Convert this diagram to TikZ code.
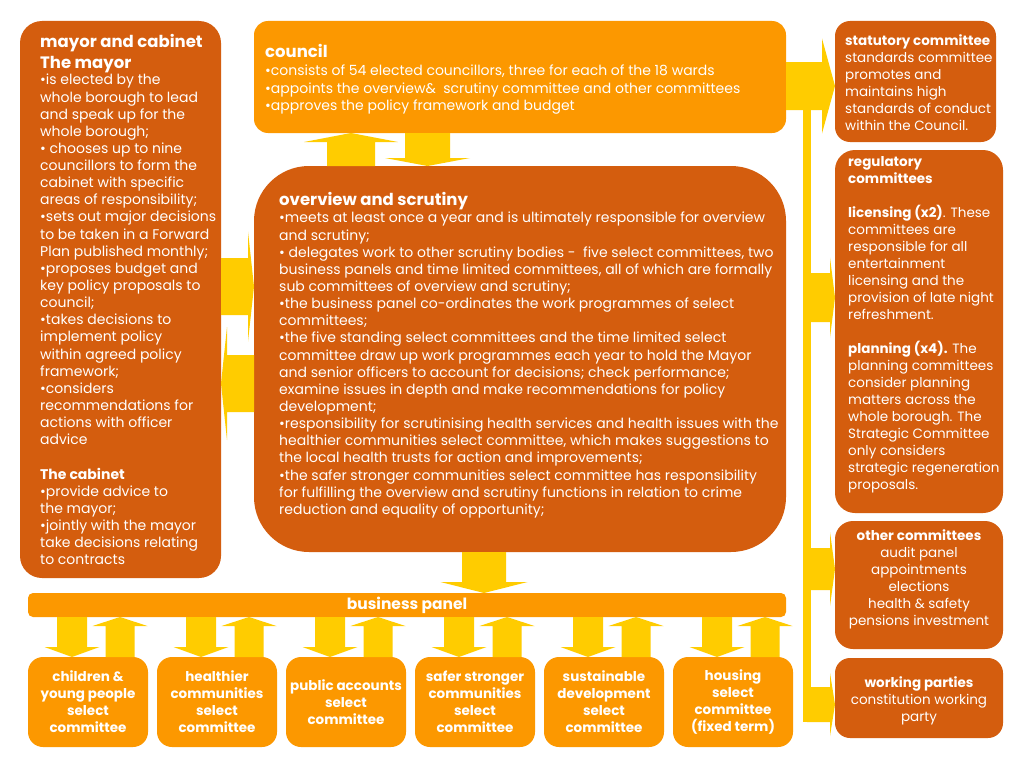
\documentclass[tikz,border=0pt]{standalone}
\usepackage{fontspec}
\setmainfont{Poppins}
\usetikzlibrary{calc}
\definecolor{dk}{RGB}{212,93,14}
\definecolor{org}{RGB}{252,152,0}
\definecolor{yel}{RGB}{255,204,0}
\tikzset{
  box/.style={rectangle, anchor=north west, inner sep=0pt, outer sep=0pt, rounded corners=#1},
  txt/.style={anchor=north west, inner sep=0pt, align=left, text=white, font=\fontsize{14}{17.14}\selectfont},
  ttl/.style={anchor=north west, inner sep=0pt, align=left, text=white, font=\fontsize{16.5}{21}\selectfont\bfseries},
  rtxt/.style={inner sep=0pt, text=white, font=\fontsize{13.5}{17}\selectfont},
  ctxt/.style={inner sep=0pt, align=center, text=white, font=\fontsize{13.5}{17}\selectfont\bfseries},
  blk/.style={fill=yel, draw=none},
}
\newcommand\blkup[5]{\path[blk] let \p1=(#1), \p2=(#2) in (\x1-#3,\y1) -- (\x1-#3,\y2-#5) -- (\x1-#4,\y2-#5) -- (\x1,\y2) -- (\x1+#4,\y2-#5) -- (\x1+#3,\y2-#5) -- (\x1+#3,\y1) -- cycle;}
\newcommand\blkdown[5]{\path[blk] let \p1=(#1), \p2=(#2) in (\x1-#3,\y1) -- (\x1-#3,\y2+#5) -- (\x1-#4,\y2+#5) -- (\x1,\y2) -- (\x1+#4,\y2+#5) -- (\x1+#3,\y2+#5) -- (\x1+#3,\y1) -- cycle;}
\newcommand\blkright[5]{\path[blk] let \p1=(#1), \p2=(#2) in (\x1,\y1-#3) -- (\x2-#5,\y1-#3) -- (\x2-#5,\y1-#4) -- (\x2,\y1) -- (\x2-#5,\y1+#4) -- (\x2-#5,\y1+#3) -- (\x1,\y1+#3) -- cycle;}
\newcommand\blkleft[5]{\path[blk] let \p1=(#1), \p2=(#2) in (\x1,\y1-#3) -- (\x2+#5,\y1-#3) -- (\x2+#5,\y1-#4) -- (\x2,\y1) -- (\x2+#5,\y1+#4) -- (\x2+#5,\y1+#3) -- (\x1,\y1+#3) -- cycle;}
\begin{document}
\begin{tikzpicture}[x=1pt,y=-1pt]
\useasboundingbox[fill=white] (0,0) rectangle (1024,768);
% boxes
\node[box=22pt, fill=dk, minimum width=201pt, minimum height=557pt] (my) at (20,21) {};
\node[box=14pt, fill=org, minimum width=532pt, minimum height=112pt] (co) at (254,21) {};
\node[box=55pt, fill=dk, minimum width=532pt, minimum height=386pt] (ov) at (254,166) {};
\node[box=15pt, fill=dk, minimum width=161pt, minimum height=121pt] (st) at (835,21) {};
\node[box=20pt, fill=dk, minimum width=168pt, minimum height=363pt] (reg) at (835,150) {};
\node[box=18pt, fill=dk, minimum width=168pt, minimum height=128pt] (oth) at (835,521) {};
\node[box=15pt, fill=dk, minimum width=168pt, minimum height=80pt] (wp) at (835,658) {};
\node[box=5pt, fill=org, minimum width=758pt, minimum height=24pt] (bp) at (28,593) {};
\foreach \i/\L in {1/28,2/157,3/286,4/415,5/544,6/673}{
  \node[box=15pt, fill=org, minimum width=120pt, minimum height=90pt] (c\i) at (\L,657) {};
}
% arrows council <-> overview
\coordinate (u1) at (351,0);
\coordinate (d1) at (427.5,0);
\blkup{u1 |- ov.north}{u1 |- co.south}{24pt}{47pt}{9pt}
\blkdown{d1 |- co.south}{d1 |- ov.north}{22.5pt}{42.5pt}{8pt}
% arrows mayor <-> overview
\coordinate (r1) at (0,286.5);
\coordinate (l1) at (0,383.5);
\blkright{my.east |- r1}{ov.west |- r1}{28.5pt}{55pt}{6pt}
\blkleft{ov.west |- l1}{my.east |- l1}{28.5pt}{56.5pt}{6pt}
% council -> statutory and side bar
\coordinate (r2) at (0,86);
\blkright{co.east |- r2}{st.west |- r2}{24pt}{47.5pt}{13pt}
\coordinate (bartop) at (807,110);
\coordinate (barbot) at (807,722);
\draw[yel, line width=8pt] (bartop) -- (barbot);
\coordinate (r3) at (0,297.5);
\coordinate (r4) at (0,569);
\coordinate (r5) at (0,704.5);
\blkright{bartop |- r3}{reg.west |- r3}{24.5pt}{40pt}{5pt}
\blkright{bartop |- r4}{oth.west |- r4}{21pt}{37pt}{5pt}
\blkright{bartop |- r5}{wp.west |- r5}{17.5pt}{31.5pt}{5pt}
% overview -> business panel
\coordinate (d2) at (484,0);
\blkdown{d2 |- ov.south}{d2 |- bp.north}{22pt}{43.5pt}{11pt}
% business panel <-> committees
\foreach \i/\L in {1/28,2/157,3/286,4/415,5/544,6/673}{
  \coordinate (dd\i) at (\L+44,0);
  \coordinate (uu\i) at (\L+92,0);
  \blkdown{dd\i |- bp.south}{dd\i |- c\i.north}{15pt}{27.5pt}{10pt}
  \blkup{uu\i |- c\i.north}{uu\i |- bp.south}{14.5pt}{27.5pt}{9pt}
}
% texts
\node[ttl] (myt) at (40,34.5) {mayor and cabinet\\The mayor};
\node[txt] (myb) at (40,74) {•is elected by the\\whole borough to lead\\and speak up for the\\whole borough;\\• chooses up to nine\\councillors to form the\\cabinet with specific\\areas of responsibility;\\•sets out major decisions\\to be taken in a Forward\\Plan published monthly;\\•proposes budget and\\key policy proposals to\\council;\\•takes decisions to\\implement policy\\within agreed policy\\framework;\\•considers\\recommendations for\\actions with officer\\advice\\[17.14pt]\textbf{The cabinet}\\•provide advice to\\the mayor;\\•jointly with the mayor\\take decisions relating\\to contracts};
\node[ttl] (cot) at (265,44) {council};
\node[txt] (cob) at (265,65) {•consists of 54 elected councillors, three for each of the 18 wards\\•appoints the overview\&~ scrutiny committee and other committees\\•approves the policy framework and budget};
\node[ttl] (ovt) at (279,192.5) {overview and scrutiny};
\node[txt] (ovb) at (279,212) {•meets at least once a year and is ultimately responsible for overview\\and scrutiny;\\• delegates work to other scrutiny bodies -~ five select committees, two\\business panels and time limited committees, all of which are formally\\sub committees of overview and scrutiny;\\•the business panel co-ordinates the work programmes of select\\committees;\\•the five standing select committees and the time limited select\\committee draw up work programmes each year to hold the Mayor\\and senior officers to account for decisions; check performance;\\examine issues in depth and make recommendations for policy\\development;\\•responsibility for scrutinising health services and health issues with the\\healthier communities select committee, which makes suggestions to\\the local health trusts for action and improvements;\\•the safer stronger communities select committee has responsibility\\for fulfilling the overview and scrutiny functions in relation to crime\\reduction and equality of opportunity;};
\node[rtxt, anchor=north west, align=left] (stt) at (845,34) {\textbf{statutory committee}\\standards committee\\promotes and\\maintains high\\standards of conduct\\within the Council.};
\node[rtxt, anchor=north west, align=left] (regt) at (848,156) {\textbf{regulatory}\\\textbf{committees}\\[17pt]\textbf{licensing (x2)}. These\\committees are\\responsible for all\\entertainment\\licensing and the\\provision of late night\\refreshment.\\[17pt]\textbf{planning (x4).} The\\planning committees\\consider planning\\matters across the\\whole borough. The\\Strategic Committee\\only considers\\strategic regeneration\\proposals.};
\node[rtxt, anchor=north, align=center] (otht) at (919,529) {\textbf{other committees}\\audit panel\\appointments\\elections\\health \& safety\\pensions investment};
\node[rtxt, anchor=north, align=center] (wpt) at (919,676) {\textbf{working parties}\\constitution working\\party};
\node[ctxt, font=\fontsize{15.5}{18}\selectfont\bfseries] (bpt) at (bp.center) {business panel};
\node[ctxt] (c1t) at (c1.center) {children \&\\young people\\select\\committee};
\node[ctxt] (c2t) at (c2.center) {healthier\\communities\\select\\committee};
\node[ctxt] (c3t) at (c3.center) {public accounts\\select\\committee};
\node[ctxt] (c4t) at (c4.center) {safer stronger\\communities\\select\\committee};
\node[ctxt] (c5t) at (c5.center) {sustainable\\development\\select\\committee};
\node[ctxt] (c6t) at (c6.center) {housing\\select\\committee\\(fixed term)};
\end{tikzpicture}
\end{document}
